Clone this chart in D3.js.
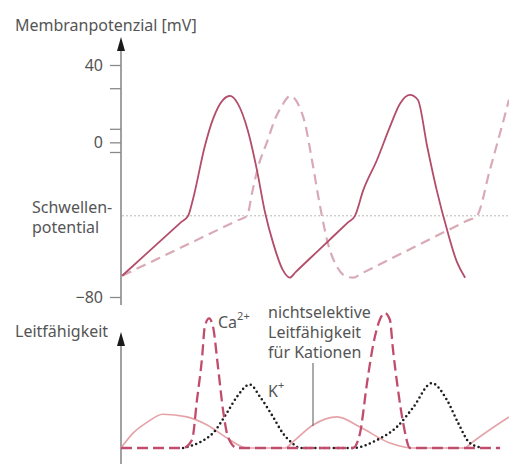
<!DOCTYPE html>
<html>
<head>
<meta charset="utf-8">
<script src="https://cdn.jsdelivr.net/npm/d3@7"></script>
<style>
  html, body { margin: 0; padding: 0; background: #fff; }
  svg { display: block; font-family: 'Noto Sans', sans-serif; }
  .label { fill: #555; font-size: 16px; }
  .sup { font-size: 11px; }
</style>
</head>
<body>
<svg id="chart" width="509" height="464"></svg>
<script>
// membrane potential axis [mV]
const potentialTicks = [40, 28, 7, 0, -5, -80];
const potentialLabels = { '40': '40', '0': '0', '-80': '−80' };
const threshold = -38;

// [time ms, mV]
const apSolid = [
  [3, -69], [60, -58.6], [155, -41.3], [173, -38], [186, -29], [216, -2],
  [237, 12], [263, 22], [281, 24], [301, 20], [327, 6], [350, -14],
  [371, -36], [392, -52], [417, -66], [435, -70], [450, -67.1], [520, -53.8],
  [585, -41.4], [603, -38], [624, -25], [660, -9], [693, 8], [719, 20],
  [745, 24.5], [765, 22], [789, -2], [814, -25], [840, -45], [866, -62],
  [887, -70]
];
const apDashed = [
  [3, -69], [100, -59.7], [300, -40.4], [325, -38], [338, -26], [353, -13],
  [376, 0], [397, 12], [415, 19], [436, 24], [456, 20], [474, 10], [492, -9],
  [513, -33], [533, -52], [557, -64.5], [582, -69.5], [598, -70], [620, -67.8],
  [890, -40.7], [917, -38], [951, -14], [984, 10], [1000, 22]
];

// [time ms, relative conductance]
const gNonselective = [
  [0, 0], [31, 0.11], [67, 0.19], [108, 0.25], [170, 0.23], [222, 0.17],
  [273, 0.075], [325, 0], [423, 0], [443, 0.045], [495, 0.17], [557, 0.23],
  [616, 0.155], [693, 0.037], [753, 0], [887, 0], [900, 0.03], [1000, 0.23]
];
const gCalcium = [
  [0, 0], [160, 0], [183, 0.06], [196, 0.36], [209, 0.67], [216, 0.9],
  [227, 0.96], [237, 0.9], [250, 0.6], [263, 0.28], [276, 0.08], [299, 0],
  [598, 0], [616, 0.11], [634, 0.48], [649, 0.75], [667, 0.95], [680, 1],
  [693, 0.95], [701, 0.73], [714, 0.43], [727, 0.19], [745, 0], [977, 0]
];
const gPotassium = [
  [160, 0], [204, 0.044], [237, 0.11], [273, 0.26], [299, 0.38], [332, 0.47],
  [358, 0.38], [392, 0.23], [417, 0.11], [441, 0.037], [461, 0], [598, 0],
  [660, 0.06], [711, 0.156], [753, 0.3], [801, 0.48], [840, 0.356],
  [869, 0.185], [899, 0.037], [933, 0]
];

const svg = d3.select('#chart');

const x = d3.scaleLinear().domain([0, 1000]).range([121, 509]);
const yV = d3.scaleLinear().domain([-80, 40]).range([297, 65]);
const yG = d3.scaleLinear().domain([0, 1]).range([448, 313]);

let drawSeries = (data, y, style) => {
  let line = d3.line()
    .x(d => x(d[0]))
    .y(d => y(d[1]))
    .curve(d3.curveMonotoneX);

  svg.append('path')
    .datum(data)
    .attr('d', line)
    .attr('fill', 'none')
    .attr('stroke', style.color)
    .attr('stroke-width', style.width)
    .attr('stroke-dasharray', style.dash || null)
    .attr('stroke-linecap', style.cap || 'butt')
    .attr('stroke-linejoin', 'round');
};

let drawArrowAxis = (top, bottom, arrowLength) => {
  svg.append('line')
    .attr('x1', x(0)).attr('x2', x(0))
    .attr('y1', top + arrowLength - 2).attr('y2', bottom)
    .attr('stroke', '#8a8a8a')
    .attr('stroke-width', 1.6);
  svg.append('path')
    .attr('d', `M${x(0)},${top} L${x(0) + 4},${top + arrowLength} L${x(0) - 4},${top + arrowLength} Z`)
    .attr('fill', '#1a1a1a');
};

// threshold
svg.append('line')
  .attr('x1', x(4)).attr('x2', x(1000))
  .attr('y1', yV(threshold)).attr('y2', yV(threshold))
  .attr('stroke', '#6f6f6f')
  .attr('stroke-width', 1)
  .attr('stroke-dasharray', '1,3');

// potential axis
drawArrowAxis(37, 305, 14);
let vAxis = svg.append('g')
  .attr('transform', `translate(${x(0)},0)`)
  .call(d3.axisLeft(yV)
    .tickValues(potentialTicks)
    .tickSize(11)
    .tickPadding(7)
    .tickFormat(d => potentialLabels[d] || ''));
vAxis.select('.domain').remove();
vAxis.selectAll('.tick line').attr('stroke', '#8a8a8a').attr('stroke-width', 1.3);
vAxis.selectAll('.tick text')
  .attr('fill', '#555')
  .style('font-size', '16px')
  .style('font-family', "'Noto Sans', sans-serif");

// conductance axis
drawArrowAxis(332, 464, 14);

// action potentials
drawSeries(apDashed, yV, { color: '#d9aab6', width: 2.2, dash: '10,6' });
drawSeries(apSolid, yV, { color: '#b24d6a', width: 1.8 });

// conductances
drawSeries(gNonselective, yG, { color: '#e5a3a8', width: 1.7 });
drawSeries(gPotassium, yG, { color: '#1e1e1e', width: 2.6, dash: '0,4.6', cap: 'round' });
drawSeries(gCalcium, yG, { color: '#c04d6d', width: 2.3, dash: '11,5' });

// leader line for the nonselective label
svg.append('line')
  .attr('x1', 313).attr('x2', 313)
  .attr('y1', 363).attr('y2', yG(0.17) + 1)
  .attr('stroke', '#666')
  .attr('stroke-width', 1.1);

// texts
let addText = (str, tx, ty) => svg.append('text')
  .attr('class', 'label')
  .attr('x', tx)
  .attr('y', ty)
  .text(str);

addText('Membranpotenzial [mV]', 15, 31);
addText('Schwellen-', 32, 213);
addText('potential', 32, 233);
addText('Leitfähigkeit', 15, 337);

let ca = addText('Ca', 218, 328);
ca.append('tspan').attr('class', 'sup').attr('dy', -8).text('2+');

let k = addText('K', 268, 397);
k.append('tspan').attr('class', 'sup').attr('dy', -8).text('+');

addText('nichtselektive', 268, 318);
addText('Leitfähigkeit', 268, 338);
addText('für Kationen', 268, 358);
</script>
</body>
</html>
